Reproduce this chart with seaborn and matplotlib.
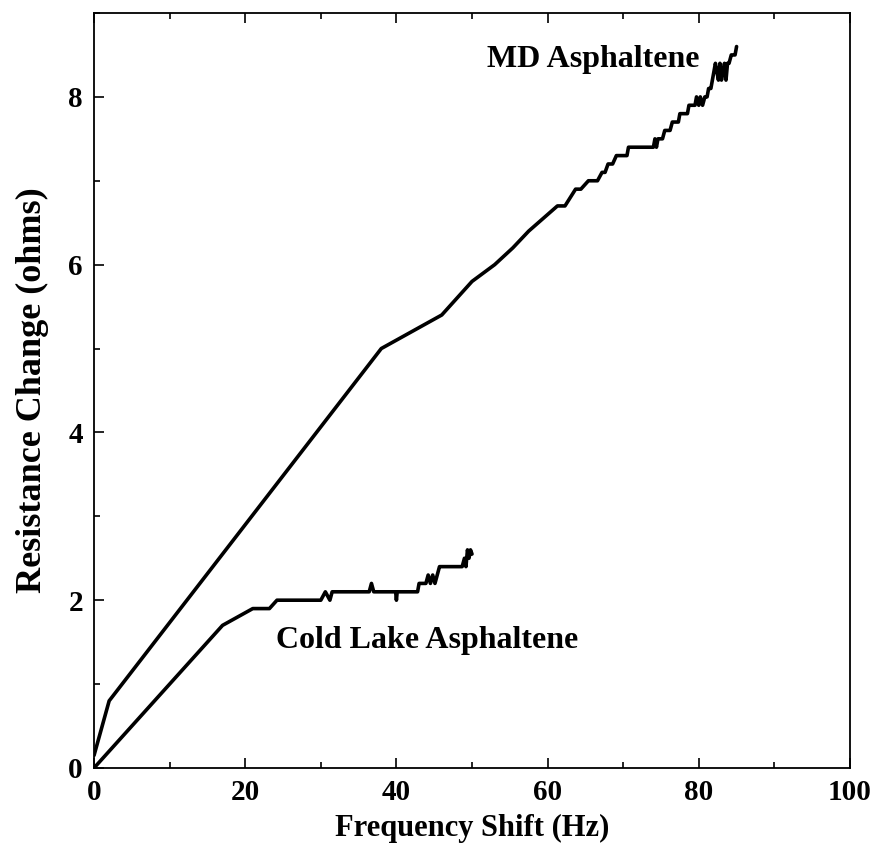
import matplotlib
matplotlib.use("Agg")
import matplotlib.pyplot as plt
from matplotlib.ticker import MultipleLocator
import seaborn as sns
import pandas as pd

# ---- data ----
md_x = [0, 2, 38, 46, 50, 53, 55.4, 57.5, 61.3, 62.3, 63.7, 64.4, 65.4, 66.6,
        67.2, 67.6, 68.0, 68.6, 69.1, 70.5, 70.7, 74.0, 74.2, 74.4, 74.6, 75.2,
        75.5, 76.2, 76.5, 77.3, 77.5, 78.5, 78.7, 79.5, 79.7, 80.0, 80.2, 80.5,
        80.8, 81.1, 81.3, 81.6, 81.8, 82.0, 82.2, 82.4, 82.6, 82.8, 83.0, 83.2,
        83.4, 83.6, 83.8, 84.0, 84.3, 84.5, 84.8, 85.0]
md_y = [0.15, 0.8, 5.0, 5.4, 5.8, 6.0, 6.2, 6.4, 6.7, 6.7, 6.9, 6.9, 7.0, 7.0,
        7.1, 7.1, 7.2, 7.2, 7.3, 7.3, 7.4, 7.4, 7.5, 7.4, 7.5, 7.5,
        7.6, 7.6, 7.7, 7.7, 7.8, 7.8, 7.9, 7.9, 8.0, 7.9, 8.0, 7.9,
        8.0, 8.0, 8.1, 8.1, 8.2, 8.3, 8.4, 8.3, 8.2, 8.4, 8.2, 8.3,
        8.4, 8.2, 8.4, 8.4, 8.5, 8.5, 8.5, 8.6]

cl_x = [0, 17, 21, 23.2, 24.2, 30.0, 30.6, 31.2, 31.5, 36.4, 36.7, 37.0, 37.2,
        39.9, 40.0, 40.1, 42.8, 43.0, 43.9, 44.2, 44.5, 44.8, 45.1, 45.4, 45.7,
        46.0, 48.7, 49.0, 49.2, 49.4, 49.6, 49.8, 50.0]
cl_y = [0, 1.7, 1.9, 1.9, 2.0, 2.0, 2.1, 2.0, 2.1, 2.1, 2.2, 2.1, 2.1,
        2.1, 2.0, 2.1, 2.1, 2.2, 2.2, 2.3, 2.2, 2.3, 2.2, 2.3, 2.4,
        2.4, 2.4, 2.5, 2.4, 2.6, 2.5, 2.6, 2.55]

series_names = ["MD Asphaltene", "Cold Lake Asphaltene"]
x_ticks = [0, 20, 40, 60, 80, 100]
y_ticks = [0, 2, 4, 6, 8]

df = pd.concat([
    pd.DataFrame({"x": md_x, "y": md_y, "sample": series_names[0]}),
    pd.DataFrame({"x": cl_x, "y": cl_y, "sample": series_names[1]}),
], ignore_index=True)

sns.set_theme(style="ticks")
plt.rcParams["font.family"] = ["Liberation Serif", "DejaVu Serif"]
plt.rcParams["font.weight"] = "bold"
for key in ["text.color", "axes.labelcolor", "xtick.color", "ytick.color",
            "axes.edgecolor"]:
    plt.rcParams[key] = "black"

fig = plt.figure(figsize=(8.74, 8.55), dpi=100)
ax = fig.add_axes([0.1076, 0.1018, 0.9725 - 0.1076, 0.9848 - 0.1018])

sns.lineplot(data=df, x="x", y="y", hue="sample", units="sample",
             estimator=None, sort=False, palette=["black", "black"],
             linewidth=2.6, legend=False, ax=ax)

ax.set_xlim(0, 100)
ax.set_ylim(0, 9)
ax.set_xticks(x_ticks)
ax.set_yticks(y_ticks)
ax.xaxis.set_minor_locator(MultipleLocator(10))
ax.yaxis.set_minor_locator(MultipleLocator(1))
ax.tick_params(axis="both", which="major", direction="in", length=7,
               width=1.2, labelsize=21, pad=8, top=True, right=False,
               colors="black")
ax.tick_params(axis="both", which="minor", direction="in", length=4,
               width=1.2, top=True, right=False, colors="black")
for lab in ax.get_xticklabels() + ax.get_yticklabels():
    lab.set_fontweight("bold")
for sp in ax.spines.values():
    sp.set_linewidth(1.3)
    sp.set_color("black")

ax.set_xlabel("Frequency Shift (Hz)", fontsize=22, fontweight="bold",
              labelpad=6, color="black")
ax.set_ylabel("Resistance Change (ohms)", fontsize=26, fontweight="bold",
              labelpad=14, color="black")

ax.text(66.1, 8.45, series_names[0], fontsize=23, fontweight="bold",
        ha="center", va="center", color="black")
ax.text(44.0, 1.52, series_names[1], fontsize=23, fontweight="bold",
        ha="center", va="center", color="black")

fig.savefig("out.png", dpi=100)
